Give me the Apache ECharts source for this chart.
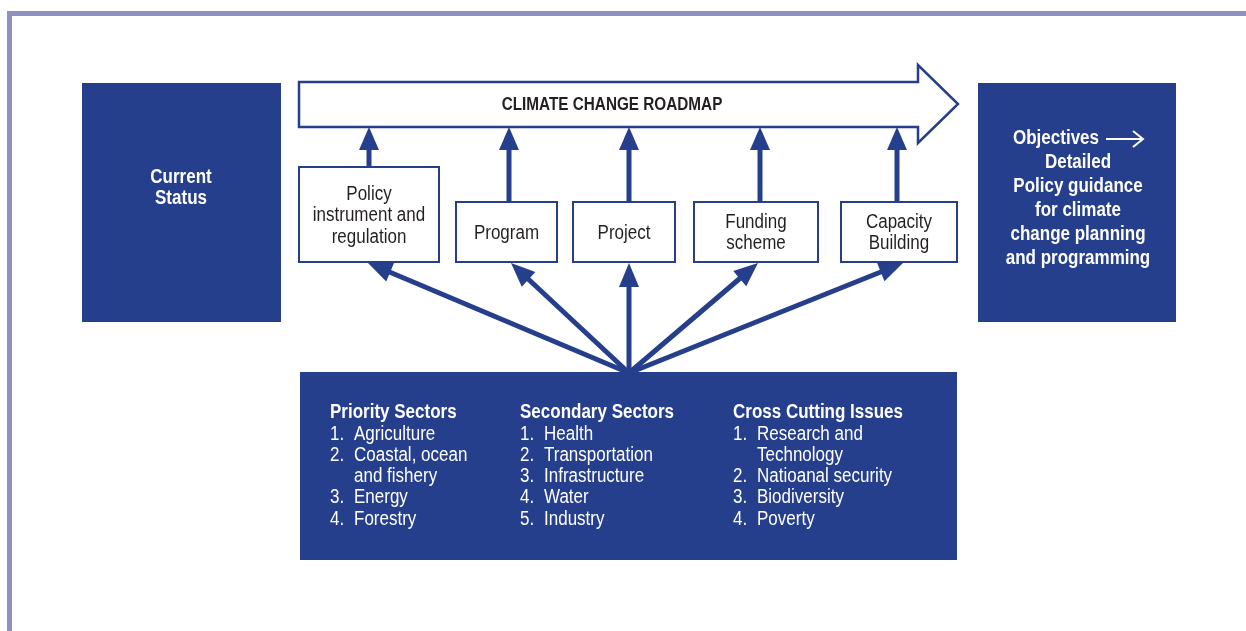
<!DOCTYPE html>
<html>
<head>
<meta charset="utf-8">
<title>Climate Change Roadmap</title>
<script src="https://cdn.jsdelivr.net/npm/echarts@6/dist/echarts.min.js"></script>
<style>
  html, body { margin: 0; padding: 0; background: #fff; }
  #main { width: 1246px; height: 631px; }
</style>
</head>
<body>
<div id="main"></div>
<script>
// texts of the diagram
var roadmapTitle = "CLIMATE CHANGE ROADMAP";
var leftBoxText = ["Current", "Status"];
var rightBoxHead = "Objectives";
var rightBoxText = ["Detailed", "Policy guidance", "for climate", "change planning", "and programming"];
var instruments = [
  ["Policy", "instrument and", "regulation"],
  ["Program"],
  ["Project"],
  ["Funding", "scheme"],
  ["Capacity", "Building"]
];
var groupTitles = ["Priority Sectors", "Secondary Sectors", "Cross Cutting Issues"];
var prioritySectors = ["Agriculture", "Coastal, ocean\nand fishery", "Energy", "Forestry"];
var secondarySectors = ["Health", "Transportation", "Infrastructure", "Water", "Industry"];
var crossCutting = ["Research and\nTechnology", "Natioanal security", "Biodiversity", "Poverty"];

var blue = "#253f8d";
var dark = "#231f20";
var font = '"Liberation Sans", Arial, sans-serif';
var squeeze = 0.85; // condensed look

var myChart = echarts.init(document.getElementById("main"));

// box positions and arrow anchors
var boxLayout = [
  { x: 299, y: 167, w: 140, h: 95 },
  { x: 456, y: 202, w: 101, h: 60 },
  { x: 573, y: 202, w: 102, h: 60 },
  { x: 694, y: 202, w: 124, h: 60 },
  { x: 841, y: 202, w: 116, h: 60 }
];
var upX = [369, 509, 629, 760, 897];
var fanTipX = [368, 511, 629, 758, 903];

function label(x, y, text, size, bold, color, align, lh) {
  return {
    type: "text", x: x, y: y, scaleX: squeeze,
    style: {
      text: text, fill: color, font: (bold ? "bold " : "") + size + "px " + font,
      textAlign: align || "left", textVerticalAlign: "middle", lineHeight: lh || size
    }
  };
}

function arrow(x1, y1, x2, y2, headLen, headHalf, width) {
  var dx = x2 - x1, dy = y2 - y1;
  var L = Math.sqrt(dx * dx + dy * dy);
  var ux = dx / L, uy = dy / L;
  var bx = x2 - ux * headLen, by = y2 - uy * headLen;
  var px = -uy, py = ux;
  return [
    {
      type: "line",
      shape: { x1: x1, y1: y1, x2: bx + ux * 2, y2: by + uy * 2 },
      style: { stroke: blue, lineWidth: width }
    },
    {
      type: "polygon",
      shape: {
        points: [
          [x2, y2],
          [bx + px * headHalf, by + py * headHalf],
          [bx - px * headHalf, by - py * headHalf]
        ]
      },
      style: { fill: blue }
    }
  ];
}

var els = [];

// frame
els.push({ type: "rect", shape: { x: 7, y: 11, width: 1239, height: 5 }, style: { fill: "#8f90bd" } });
els.push({ type: "rect", shape: { x: 7, y: 11, width: 5, height: 620 }, style: { fill: "#8f90bd" } });

// side boxes
els.push({ type: "rect", shape: { x: 82, y: 83, width: 199, height: 239 }, style: { fill: blue } });
els.push({ type: "rect", shape: { x: 978, y: 83, width: 198, height: 239 }, style: { fill: blue } });
els.push(label(181, 188, leftBoxText.join("\n"), 20, true, "#fff", "center", 21));

els.push(label(1099, 138, rightBoxHead, 20, true, "#fff", "right"));
els.push({ type: "line", shape: { x1: 1106, y1: 139, x2: 1143, y2: 139 }, style: { stroke: "#fff", lineWidth: 2 } });
els.push({
  type: "polyline", shape: { points: [[1133, 131], [1143, 139], [1133, 147]] },
  style: { stroke: "#fff", lineWidth: 2, fill: null }
});
rightBoxText.forEach(function (t, i) {
  els.push(label(1078, 162 + i * 24.2, t, 20, true, "#fff", "center"));
});

// roadmap arrow
els.push({
  type: "polygon",
  shape: { points: [[299, 82], [918, 82], [918, 65], [958, 104], [918, 143], [918, 127], [299, 127]] },
  style: { fill: "#fff", stroke: blue, lineWidth: 2.5 }
});
els.push(label(612, 105, roadmapTitle, 18, true, dark, "center"));

// instrument boxes, arrows up to the roadmap and fan from the sectors
instruments.forEach(function (lines, i) {
  var b = boxLayout[i];
  els.push({
    type: "rect", shape: { x: b.x, y: b.y, width: b.w, height: b.h },
    style: { fill: "#fff", stroke: blue, lineWidth: 2 }
  });
  els.push(label(b.x + b.w / 2, b.y + b.h / 2 + 1, lines.join("\n"), 20, false, dark, "center", 21.5));
  els = els.concat(arrow(upX[i], b.y, upX[i], 127, 23, 10, 5));
  els = els.concat(arrow(629, 373, fanTipX[i], 263, 24, 10, 5));
});

// sectors box
els.push({ type: "rect", shape: { x: 300, y: 372, width: 657, height: 188 }, style: { fill: blue } });
var colX = [330, 520, 733];
[prioritySectors, secondarySectors, crossCutting].forEach(function (items, c) {
  els.push(label(colX[c], 412, groupTitles[c], 20, true, "#fff"));
  var row = 0;
  items.forEach(function (item, k) {
    var y = 434 + row * 21.3;
    els.push(label(colX[c], y, (k + 1) + ".", 20, false, "#fff"));
    item.split("\n").forEach(function (part, p) {
      els.push(label(colX[c] + 24, y + p * 21.3, part, 20, false, "#fff"));
      row++;
    });
  });
});

var option = {
  backgroundColor: "#fff",
  animation: false,
  graphic: { elements: els }
};

myChart.setOption(option);
</script>
</body>
</html>
